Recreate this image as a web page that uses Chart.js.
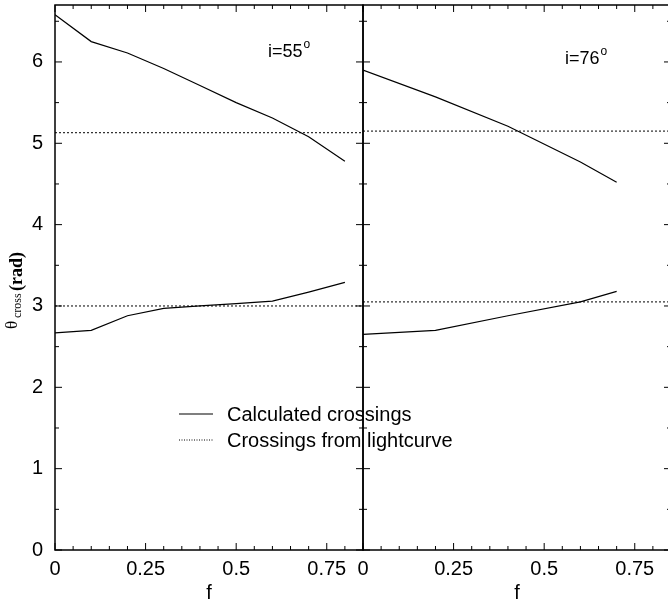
<!DOCTYPE html>
<html>
<head>
<meta charset="utf-8">
<script src="https://cdn.jsdelivr.net/npm/chart.js@4.4.1/dist/chart.umd.min.js"></script>
<style>
  html, body { margin: 0; padding: 0; background: #fff; overflow: hidden; }
  #wrap { position: relative; width: 668px; height: 605px; overflow: hidden; }
  #wrap canvas { position: absolute; left: 0; top: 0; }
</style>
</head>
<body>
<div id="wrap">
  <canvas id="left" width="672" height="605"></canvas>
  <canvas id="right" width="672" height="605"></canvas>
</div>
<script>
// values
const fLeft = [0, 0.1, 0.2, 0.3, 0.4, 0.5, 0.6, 0.7, 0.8];
const upperLeft = [6.58, 6.25, 6.11, 5.92, 5.71, 5.50, 5.31, 5.08, 4.78];
const lowerLeft = [2.67, 2.70, 2.88, 2.97, 3.00, 3.03, 3.06, 3.17, 3.29];
const lightLeft = [5.13, 3.00];

const fRight = [0, 0.2, 0.4, 0.6, 0.7];
const upperRight = [5.90, 5.57, 5.21, 4.77, 4.52];
const lowerRight = [2.65, 2.70, 2.88, 3.05, 3.18];
const lightRight = [5.15, 3.05];

const fRange = [0, 0.85];
const thetaRange = [0, 6.7];
const xMajor = [0, 0.25, 0.5, 0.75];
const yMajor = [0, 1, 2, 3, 4, 5, 6];
const legendLabels = ['Calculated crossings', 'Crossings from lightcurve'];

const FONT = "'Liberation Sans', Arial, Helvetica, sans-serif";
const SERIF = "'Liberation Serif', 'Times New Roman', serif";

function pts(xs, ys) {
  return xs.map((v, i) => ({ x: v, y: ys[i] }));
}

function flat(y) {
  return [{ x: fRange[0], y: y }, { x: fRange[1], y: y }];
}

function seriesFor(fs, upper, lower, light) {
  const solid = { borderColor: '#000', borderWidth: 1.2, pointRadius: 0, showLine: true, tension: 0 };
  const dotted = { borderColor: '#000', borderWidth: 1, borderDash: [2, 2], pointRadius: 0, showLine: true };
  return [
    Object.assign({ label: legendLabels[0], data: pts(fs, upper) }, solid),
    Object.assign({ label: legendLabels[0], data: pts(fs, lower) }, solid),
    Object.assign({ label: legendLabels[1], data: flat(light[0]) }, dotted),
    Object.assign({ label: legendLabels[1], data: flat(light[1]) }, dotted)
  ];
}

function minorSteps(from, to, step) {
  const out = [];
  for (let v = from; v <= to + 1e-9; v += step) out.push(+v.toFixed(4));
  return out;
}
const xMinor = minorSteps(0, 0.85, 0.05);
const yMinor = minorSteps(0, 6.5, 0.5);

// box round the panel, with inward ticks on all four sides
const frameTicks = {
  id: 'frameTicks',
  afterDatasetsDraw(chart) {
    const { ctx, chartArea: a, scales } = chart;
    const x = scales.x, y = scales.y;
    ctx.save();
    ctx.strokeStyle = '#000';
    ctx.lineWidth = 1;
    ctx.beginPath();
    xMinor.forEach(v => {
      const px = x.getPixelForValue(v);
      const len = xMajor.includes(v) ? 7 : 4;
      ctx.moveTo(px, a.bottom); ctx.lineTo(px, a.bottom - len);
      ctx.moveTo(px, a.top); ctx.lineTo(px, a.top + len);
    });
    yMinor.forEach(v => {
      const py = y.getPixelForValue(v);
      const len = yMajor.includes(v) ? 7 : 4;
      ctx.moveTo(a.left, py); ctx.lineTo(a.left + len, py);
      ctx.moveTo(a.right, py); ctx.lineTo(a.right - len, py);
    });
    ctx.stroke();
    ctx.lineWidth = 1.5;
    ctx.strokeRect(a.left, a.top, a.right - a.left, a.bottom - a.top);
    ctx.restore();
  }
};

// i= label with the small raised degree sign
function drawIncl(ctx, text, x, base) {
  ctx.save();
  ctx.fillStyle = '#000';
  ctx.textBaseline = 'alphabetic';
  ctx.font = '18px ' + FONT;
  ctx.fillText(text, x, base);
  const w = ctx.measureText(text).width;
  ctx.font = '12px ' + FONT;
  ctx.fillText('o', x + w + 1, base - 9);
  ctx.restore();
}

const leftExtras = {
  id: 'leftExtras',
  afterDraw(chart) {
    const ctx = chart.ctx;
    drawIncl(ctx, 'i=55', 268, 57);

    // legend
    ctx.save();
    ctx.strokeStyle = '#000';
    ctx.beginPath();
    ctx.lineWidth = 1.2;
    ctx.moveTo(179, 414); ctx.lineTo(213, 414);
    ctx.stroke();
    ctx.beginPath();
    ctx.lineWidth = 1;
    ctx.setLineDash([1, 1.5]);
    ctx.moveTo(179, 440); ctx.lineTo(213, 440);
    ctx.stroke();
    ctx.setLineDash([]);
    ctx.fillStyle = '#000';
    ctx.font = '20px ' + FONT;
    ctx.textBaseline = 'alphabetic';
    ctx.fillText(legendLabels[0], 227, 421);
    ctx.fillText(legendLabels[1], 227, 447);
    ctx.restore();

    // y title: theta_cross (rad), turned on its side
    ctx.save();
    ctx.rotate(-Math.PI / 2);
    ctx.fillStyle = '#000';
    ctx.textBaseline = 'alphabetic';
    ctx.font = '17px ' + SERIF;
    ctx.fillText('\u03b8', -329, 17);
    ctx.font = '12px ' + SERIF;
    ctx.fillText('cross', -318, 21);
    ctx.font = 'bold 18px ' + SERIF;
    ctx.fillText('(rad)', -291, 22);
    ctx.restore();
  }
};

const rightExtras = {
  id: 'rightExtras',
  afterDraw(chart) {
    drawIncl(chart.ctx, 'i=76', 565, 64);
  }
};

function makeOptions(showY, axisWidth, padRight) {
  return {
    responsive: false,
    animation: false,
    events: [],
    layout: { padding: { left: 0, right: padRight, top: 5, bottom: 0 } },
    plugins: { legend: { display: false }, tooltip: { enabled: false } },
    scales: {
      x: {
        type: 'linear',
        min: fRange[0],
        max: fRange[1],
        grid: { display: false, drawTicks: false },
        border: { display: false },
        afterFit(s) { s.height = 55; s.paddingLeft = 0; s.paddingRight = 0; },
        afterBuildTicks(s) { s.ticks = xMajor.map(v => ({ value: v })); },
        ticks: {
          padding: 7,
          color: '#000',
          font: { family: FONT, size: 20 },
          callback: v => String(v),
          maxRotation: 0,
          autoSkip: false
        },
        title: {
          display: true,
          text: 'f',
          color: '#000',
          font: { family: FONT, size: 20 },
          padding: { top: 0, bottom: 0 }
        }
      },
      y: {
        type: 'linear',
        min: thetaRange[0],
        max: thetaRange[1],
        grid: { display: false, drawTicks: false },
        border: { display: false },
        afterFit(s) { s.width = axisWidth; s.paddingTop = 0; s.paddingBottom = 0; },
        afterBuildTicks(s) { s.ticks = yMajor.map(v => ({ value: v })); },
        ticks: {
          display: showY,
          padding: 12,
          color: '#000',
          font: { family: FONT, size: 20 },
          callback: v => String(v)
        }
      }
    }
  };
}

new Chart(document.getElementById('left'), {
  type: 'scatter',
  data: { datasets: seriesFor(fLeft, upperLeft, lowerLeft, lightLeft) },
  options: makeOptions(true, 55, 672 - 363),
  plugins: [frameTicks, leftExtras]
});

new Chart(document.getElementById('right'), {
  type: 'scatter',
  data: { datasets: seriesFor(fRight, upperRight, lowerRight, lightRight) },
  options: makeOptions(false, 363, 1),
  plugins: [frameTicks, rightExtras]
});
</script>
</body>
</html>
